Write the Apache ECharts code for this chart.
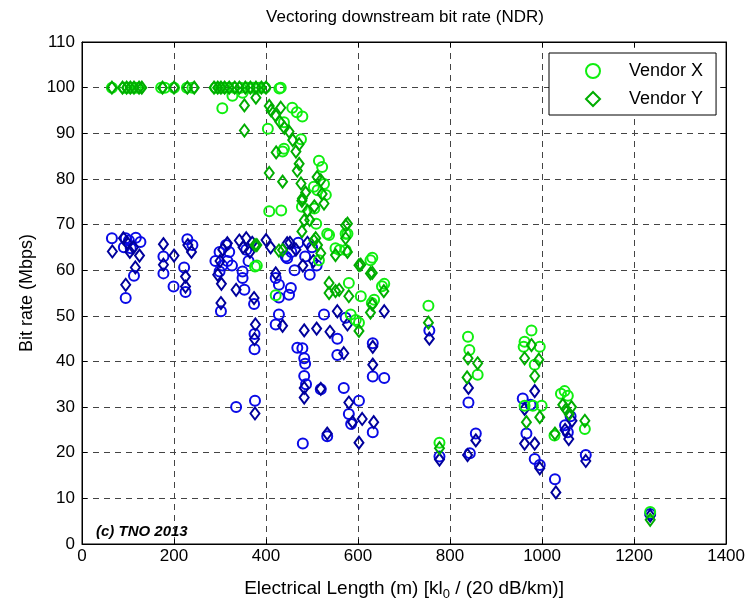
<!DOCTYPE html>
<html>
<head>
<meta charset="utf-8">
<title>Vectoring downstream bit rate (NDR)</title>
<script src="https://cdn.jsdelivr.net/npm/echarts@6/dist/echarts.min.js"></script>
<style>
html, body { margin: 0; padding: 0; background: #fff; }
#chart { width: 748px; height: 606px; }
</style>
</head>
<body>
<div id="chart"></div>
<script>
// [electrical length (m), bit rate (Mbps)]
var vendorX = [
  [65, 100], [92, 100], [100, 100], [108, 100], [117, 100], [125, 100], [172, 100], [180, 100],
  [200, 100], [228, 100], [240, 100], [290, 100], [300, 100], [308, 100], [318, 100], [330, 100],
  [345, 100], [360, 100], [372, 100], [385, 100], [398, 100], [429, 99.8], [432, 100],
  [305, 95.5], [327, 98.2], [349, 98.9], [404, 91], [436, 86], [407, 72.9], [433, 73.1],
  [380, 61], [421, 54.5], [376, 60.8],
  [457, 95.6], [467, 94.6], [479, 93.7], [439, 92.4], [476, 88.7], [439, 86.6], [515, 84],
  [522, 82.6], [526, 78.9], [512, 77.5], [504, 78.3], [505, 73.5], [530, 76.5], [478, 73.9],
  [509, 70.2], [533, 68], [537, 67.7], [573, 68], [577, 68], [551, 64.8], [573, 64.4],
  [560, 64.4], [515, 62.2], [627, 62.2], [631, 62.7], [652, 56.5], [657, 57], [606, 54.3],
  [580, 57.2], [635, 53.5], [630, 52.8], [584, 50.3], [595, 49.1], [602, 48.5],
  [753, 52.2], [839, 45.4], [842, 42.5], [860, 37.1], [777, 22.2],
  [977, 46.8], [962, 44.3], [960, 43.2], [995, 43.2], [984, 39.3], [962, 30.3], [980, 30.3],
  [999, 30.3], [1027, 23.8], [1041, 32.9], [1049, 33.5], [1056, 32.5], [1093, 25.2], [1235, 7]
];
var vendorY = [
  [65, 100], [88, 100], [97, 100], [105, 100], [113, 100], [124, 100], [130, 100], [175, 100],
  [200, 100], [229, 100], [244, 100], [287, 100], [295, 100], [302, 100], [310, 100], [320, 100],
  [332, 100], [342, 100], [355, 100], [366, 100], [378, 100], [390, 100], [400, 100],
  [353, 96.1], [378, 97.8], [353, 90.6], [407, 96], [411, 95], [420, 94], [430, 92.5],
  [440, 91.2], [422, 85.8], [407, 81.3], [436, 79.4], [380, 65.5], [436, 64.4], [376, 65.5],
  [428, 64.3], [432, 95.6], [450, 90.4], [458, 88.5], [465, 86], [472, 87.6], [472, 83.3],
  [468, 81.8], [476, 79], [479, 75.7], [486, 77], [490, 73], [495, 71], [511, 80.4], [519, 79.7],
  [522, 76.7], [526, 74.6], [505, 74], [478, 75.2], [483, 70.9], [478, 68.5], [504, 66.5],
  [508, 67], [512, 65.5], [519, 63.7], [573, 69.8], [577, 70.2], [573, 67], [551, 63.3],
  [577, 64], [602, 61.1], [606, 61.2], [627, 59.3], [631, 59.4], [537, 57.2], [537, 55],
  [551, 55.4], [559, 55.7], [580, 54.3], [656, 55.4], [631, 52.5], [627, 50.7], [602, 46.7],
  [753, 48.5], [839, 40.7], [860, 39.6], [837, 36.5], [777, 21],
  [977, 43.6], [962, 40.7], [993, 40.4], [984, 36.8], [966, 26.7], [995, 27.8], [1028, 24.2],
  [1045, 30.5], [1052, 29.5], [1059, 28.5], [1064, 30], [1093, 27], [1235, 5.3]
];
var vendorXBlue = [
  [65, 67], [91, 65], [95, 67], [102, 66.5], [117, 67.1], [127, 66.2], [106, 64.8], [113, 58.8],
  [95, 53.9], [177, 63], [177, 59.3], [199, 56.4], [229, 66.8], [240, 65.5], [222, 60.6],
  [225, 55.2], [290, 62], [299, 64], [299, 59.7], [305, 61], [313, 65.5], [316, 62], [302, 51],
  [320, 64], [326, 61], [349, 59.7], [349, 58.3], [353, 55.7], [357, 64.5], [362, 62],
  [374, 52.6], [375, 46], [375, 42.7], [335, 30], [376, 31.4], [443, 63], [421, 58.3],
  [428, 56.8], [428, 54], [421, 48.1], [428, 50.3], [454, 56.1], [446, 62.6], [455, 64],
  [462, 60], [470, 66], [485, 63], [495, 59], [500, 65], [510, 61], [450, 54.6], [468, 43],
  [479, 42.9], [483, 40.7], [485, 39.5], [483, 36.8], [487, 35], [480, 22], [555, 45],
  [555, 41.4], [519, 33.9], [569, 34.2], [602, 31.4], [580, 28.5], [585, 26.3], [632, 24.5],
  [533, 23.6], [632, 44], [632, 36.7], [657, 36.4], [526, 50.3], [573, 49.6], [755, 46.8],
  [777, 19.2], [843, 19.9], [856, 24.2], [840, 31], [958, 31.9], [975, 30.5], [966, 24.2],
  [984, 18.6], [995, 17.3], [1028, 14.2], [1050, 26], [1056, 24.5], [1062, 28], [1095, 19.5],
  [1235, 6.6]
];
var vendorYBlue = [
  [66, 64.1], [90, 67], [98, 66], [104, 64], [112, 65], [125, 63.2], [116, 60.6], [95, 56.8],
  [177, 65.7], [200, 63.2], [177, 61.2], [225, 58.6], [225, 56.4], [230, 65.5], [238, 64],
  [316, 65.9], [306, 64.5], [300, 62], [295, 59], [303, 57], [302, 52.8], [335, 55.7],
  [342, 66.5], [350, 65], [357, 67], [365, 64], [370, 66], [374, 53.9], [377, 48.1],
  [375, 44.9], [376, 28.6], [400, 66.6], [410, 65], [446, 65.9], [421, 59.3], [436, 47.8],
  [452, 66], [465, 64.5], [480, 61], [490, 66], [503, 62], [483, 46.8], [510, 47.2],
  [539, 46.5], [555, 51], [577, 48.1], [657, 51], [569, 41.8], [483, 34.2], [483, 32.1],
  [519, 34], [580, 31], [588, 26.7], [609, 27.4], [634, 26.7], [632, 39.3], [632, 43.2],
  [533, 24.2], [602, 22.2], [755, 45], [777, 18.5], [838, 19.5], [856, 22.7], [840, 34.2],
  [962, 29.6], [962, 22], [984, 22], [984, 33.5], [995, 16.6], [1030, 11.3], [1050, 25],
  [1058, 23], [1065, 27], [1095, 18.2], [1235, 6.2]
];
var xTicks = [0, 1400, 200];
var yTicks = [0, 110, 10];

var font = 'Liberation Sans, Arial, Helvetica, sans-serif';
var gridLine = { show: true, lineStyle: { color: '#444', type: [6, 5], width: 1 } };

function scatter(name, data, symbol, size, color) {
  return {
    name: name,
    type: 'scatter',
    data: data,
    symbol: symbol,
    symbolSize: size,
    itemStyle: { color: 'transparent', borderColor: color, borderWidth: 2, opacity: 1 },
    emphasis: { disabled: true },
    silent: true
  };
}

var option = {
  animation: false,
  backgroundColor: '#fff',
  textStyle: { fontFamily: font },
  title: {
    text: 'Vectoring downstream bit rate (NDR)',
    left: 405,
    top: 9,
    padding: 0,
    textAlign: 'center',
    textStyle: { fontSize: 17, fontWeight: 'normal', color: '#000', fontFamily: font }
  },
  grid: { left: 82, right: 19, top: 42, bottom: 58, show: true, borderColor: '#000', borderWidth: 1 },
  legend: {
    data: ['Vendor X', 'Vendor Y'],
    orient: 'vertical',
    left: 549,
    top: 53,
    padding: [9, 13, 7, 36],
    itemGap: 10,
    itemWidth: 14,
    itemHeight: 14,
    backgroundColor: '#fff',
    borderColor: '#000',
    borderWidth: 1,
    textStyle: { fontSize: 18, color: '#000', fontFamily: font, lineHeight: 18, padding: [0, 0, 0, 24] }
  },
  xAxis: [
    {
      type: 'value', min: xTicks[0], max: xTicks[1], interval: xTicks[2],
      name: 'Electrical Length (m) [kl{sub|0} / (20 dB/km)]',
      nameLocation: 'middle', nameGap: 32,
      nameTextStyle: {
        fontSize: 19, color: '#000', fontFamily: font,
        rich: { sub: { fontSize: 13, color: '#000', fontFamily: font, padding: [12, 0, 0, 0] } }
      },
      axisLine: { show: true, onZero: false, lineStyle: { color: '#000' } },
      axisTick: { show: true, inside: true, length: 5, lineStyle: { color: '#000' } },
      axisLabel: { fontSize: 17, color: '#000', margin: 4, fontFamily: font, formatter: function (v) { return String(v) } },
      splitLine: gridLine
    },
    {
      type: 'value', position: 'top', min: xTicks[0], max: xTicks[1], interval: xTicks[2],
      axisLine: { show: true, onZero: false, lineStyle: { color: '#000' } },
      axisTick: { show: true, inside: true, length: 5, lineStyle: { color: '#000' } },
      axisLabel: { show: false },
      splitLine: { show: false }
    }
  ],
  yAxis: [
    {
      type: 'value', min: yTicks[0], max: yTicks[1], interval: yTicks[2],
      name: 'Bit rate (Mbps)',
      nameLocation: 'middle', nameGap: 35,
      nameTextStyle: { fontSize: 18, color: '#000', fontFamily: font },
      axisLine: { show: true, onZero: false, lineStyle: { color: '#000' } },
      axisTick: { show: true, inside: true, length: 5, lineStyle: { color: '#000' } },
      axisLabel: { fontSize: 17, color: '#000', margin: 7, fontFamily: font },
      splitLine: gridLine
    },
    {
      type: 'value', position: 'right', min: yTicks[0], max: yTicks[1], interval: yTicks[2],
      axisLine: { show: true, onZero: false, lineStyle: { color: '#000' } },
      axisTick: { show: true, inside: true, length: 5, lineStyle: { color: '#000' } },
      axisLabel: { show: false },
      splitLine: { show: false }
    }
  ],
  graphic: [
    {
      type: 'text', left: 96, top: 524,
      style: { text: '(c) TNO 2013', font: 'italic bold 15px ' + font, fill: '#000' }
    }
  ],
  series: [
    scatter('Vendor X (blue)', vendorXBlue, 'circle', 10, '#0a0ae6'),
    scatter('Vendor Y (blue)', vendorYBlue, 'diamond', [9, 12], '#00009c'),
    scatter('Vendor X', vendorX, 'circle', 10, '#10ee10'),
    scatter('Vendor Y', vendorY, 'diamond', [9, 12], '#00ad00')
  ]
};

var chart = echarts.init(document.getElementById('chart'))
chart.setOption(option, true)
window.addEventListener('resize', () => {
  chart.resize()
})
</script>
</body>
</html>
